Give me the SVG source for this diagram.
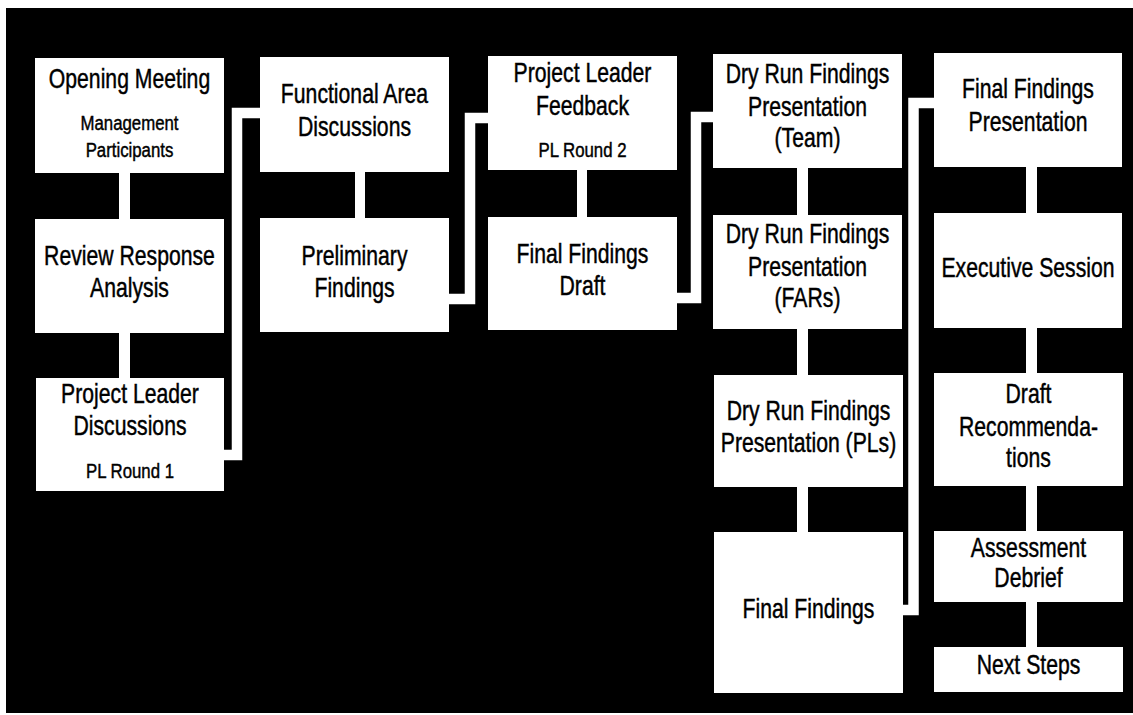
<svg xmlns="http://www.w3.org/2000/svg" width="1133" height="715" viewBox="0 0 1133 715">
<style>
.box{fill:#fff}
.t{font-family:"Liberation Sans",Arial,sans-serif;font-size:27px;fill:#000;stroke:#000;stroke-width:0.45;text-anchor:middle}
.s{font-family:"Liberation Sans",Arial,sans-serif;font-size:21px;fill:#000;stroke:#000;stroke-width:0.45;text-anchor:middle}
.link{fill:none;stroke:#fff;stroke-width:10.5;stroke-linejoin:miter;stroke-linecap:butt}
</style>
<rect x="0" y="0" width="1133" height="715" fill="#fff"/>
<rect x="6" y="8" width="1127" height="705" fill="#000"/>
<g id="connectors">
<rect class="box" x="119" y="172" width="11" height="48"/>
<rect class="box" x="119" y="332" width="11" height="47"/>
<rect class="box" x="355" y="171" width="10" height="48"/>
<rect class="box" x="577" y="169" width="10" height="49"/>
<rect class="box" x="797" y="167" width="11" height="49"/>
<rect class="box" x="797" y="328" width="11" height="48"/>
<rect class="box" x="797" y="486" width="11" height="47"/>
<rect class="box" x="1026" y="166" width="11" height="48"/>
<rect class="box" x="1026" y="327" width="11" height="47"/>
<rect class="box" x="1026" y="485" width="11" height="47"/>
<rect class="box" x="1026" y="601" width="11" height="47"/>
<path class="link" d="M223,455 H237 V113 H261"/>
<path class="link" d="M448,299 H470 V118 H489"/>
<path class="link" d="M676,298 H696 V117 H714"/>
<path class="link" d="M902,610 H913.5 V103 H935"/>
</g>
<g id="opening-meeting">
<rect class="box" x="35" y="58" width="189" height="115"/>
<text class="t" transform="translate(129.5,88) scale(.785,1)">Opening Meeting</text>
<text class="s" transform="translate(129.5,130) scale(.8,1)">Management</text>
<text class="s" transform="translate(129.5,157) scale(.8,1)">Participants</text>
</g>
<g id="review-response">
<rect class="box" x="35" y="219" width="189" height="114"/>
<text class="t" transform="translate(129.5,265) scale(.785,1)">Review Response</text>
<text class="t" transform="translate(129.5,297) scale(.785,1)">Analysis</text>
</g>
<g id="pl-discussions">
<rect class="box" x="36" y="378" width="188" height="113"/>
<text class="t" transform="translate(130,403) scale(.785,1)">Project Leader</text>
<text class="t" transform="translate(130,435) scale(.785,1)">Discussions</text>
<text class="s" transform="translate(130,478) scale(.8,1)">PL Round 1</text>
</g>
<g id="functional-area">
<rect class="box" x="260" y="57" width="189" height="115"/>
<text class="t" transform="translate(354.5,103) scale(.785,1)">Functional Area</text>
<text class="t" transform="translate(354.5,136) scale(.785,1)">Discussions</text>
</g>
<g id="preliminary-findings">
<rect class="box" x="260" y="218" width="189" height="114"/>
<text class="t" transform="translate(354.5,265) scale(.785,1)">Preliminary</text>
<text class="t" transform="translate(354.5,297) scale(.785,1)">Findings</text>
</g>
<g id="pl-feedback">
<rect class="box" x="488" y="56" width="189" height="114"/>
<text class="t" transform="translate(582.5,82) scale(.785,1)">Project Leader</text>
<text class="t" transform="translate(582.5,115) scale(.785,1)">Feedback</text>
<text class="s" transform="translate(582.5,157) scale(.8,1)">PL Round 2</text>
</g>
<g id="final-findings-draft">
<rect class="box" x="488" y="217" width="189" height="113"/>
<text class="t" transform="translate(582.5,263) scale(.785,1)">Final Findings</text>
<text class="t" transform="translate(582.5,295) scale(.785,1)">Draft</text>
</g>
<g id="dry-run-team">
<rect class="box" x="713" y="54" width="189" height="114"/>
<text class="t" transform="translate(807.5,83) scale(.785,1)">Dry Run Findings</text>
<text class="t" transform="translate(807.5,116) scale(.785,1)">Presentation</text>
<text class="t" transform="translate(807.5,147) scale(.785,1)">(Team)</text>
</g>
<g id="dry-run-fars">
<rect class="box" x="713" y="215" width="189" height="114"/>
<text class="t" transform="translate(807.5,243) scale(.785,1)">Dry Run Findings</text>
<text class="t" transform="translate(807.5,276) scale(.785,1)">Presentation</text>
<text class="t" transform="translate(807.5,307) scale(.785,1)">(FARs)</text>
</g>
<g id="dry-run-pls">
<rect class="box" x="714" y="375" width="189" height="112"/>
<text class="t" transform="translate(808.5,420) scale(.785,1)">Dry Run Findings</text>
<text class="t" transform="translate(808.5,452) scale(.785,1)">Presentation (PLs)</text>
</g>
<g id="final-findings">
<rect class="box" x="714" y="532" width="189" height="161"/>
<text class="t" transform="translate(808.5,618) scale(.785,1)">Final Findings</text>
</g>
<g id="final-findings-presentation">
<rect class="box" x="934" y="53" width="188" height="114"/>
<text class="t" transform="translate(1028,98) scale(.785,1)">Final Findings</text>
<text class="t" transform="translate(1028,131) scale(.785,1)">Presentation</text>
</g>
<g id="executive-session">
<rect class="box" x="934" y="213" width="188" height="115"/>
<text class="t" transform="translate(1028,277) scale(.785,1)">Executive Session</text>
</g>
<g id="draft-recommendations">
<rect class="box" x="934" y="373" width="189" height="113"/>
<text class="t" transform="translate(1028.5,403) scale(.785,1)">Draft</text>
<text class="t" transform="translate(1028.5,436) scale(.785,1)">Recommenda-</text>
<text class="t" transform="translate(1028.5,467) scale(.785,1)">tions</text>
</g>
<g id="assessment-debrief">
<rect class="box" x="934" y="531" width="189" height="71"/>
<text class="t" transform="translate(1028.5,557) scale(.785,1)">Assessment</text>
<text class="t" transform="translate(1028.5,587) scale(.785,1)">Debrief</text>
</g>
<g id="next-steps">
<rect class="box" x="934" y="647" width="189" height="45"/>
<text class="t" transform="translate(1028.5,674) scale(.785,1)">Next Steps</text>
</g>
</svg>
